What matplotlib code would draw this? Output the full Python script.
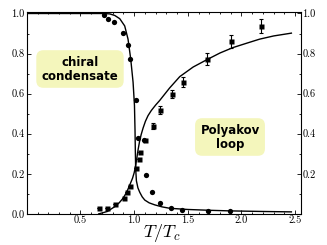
import numpy as np
import matplotlib
matplotlib.use("Agg")
import matplotlib.pyplot as plt
from matplotlib.ticker import MultipleLocator, FixedLocator

# chiral condensate: lattice points and model curve
chiral_T = [0.72, 0.76, 0.81, 0.90, 0.94, 0.96, 1.02, 1.04, 1.09, 1.11,
            1.165, 1.24, 1.34, 1.45, 1.69, 1.89]
chiral_val = [0.991, 0.974, 0.958, 0.905, 0.842, 0.773, 0.569, 0.381, 0.367,
              0.194, 0.108, 0.053, 0.031, 0.021, 0.015, 0.013]
chiral_curve_T = [0.0, 0.70, 0.773, 0.82, 0.866, 0.912, 0.943, 0.968, 0.990,
                  1.003, 1.008, 1.011, 1.014, 1.021, 1.035, 1.052, 1.075,
                  1.099, 1.14, 1.192, 1.26, 1.331, 1.5, 1.7, 1.89, 2.2, 2.465]
chiral_curve_val = [1.0, 1.0, 0.998, 0.99, 0.974, 0.938, 0.872, 0.773, 0.657,
                    0.541, 0.42, 0.318, 0.228, 0.165, 0.13, 0.108, 0.085,
                    0.069, 0.055, 0.045, 0.035, 0.028, 0.022, 0.018, 0.015,
                    0.012, 0.010]

# Polyakov loop: lattice points (with errors) and model curve
poly_T = [0.673, 0.748, 0.826, 0.906, 0.938, 0.959, 1.015, 1.046, 1.059,
          1.099, 1.176, 1.241, 1.353, 1.459, 1.683, 1.899, 2.179]
poly_val = [0.028, 0.031, 0.048, 0.081, 0.108, 0.140, 0.227, 0.276, 0.309,
            0.367, 0.438, 0.518, 0.599, 0.657, 0.771, 0.862, 0.936]
poly_err = [0.0, 0.0, 0.0, 0.0, 0.0, 0.0, 0.0, 0.0, 0.0,
            0.0, 0.015, 0.018, 0.02, 0.025, 0.03, 0.033, 0.035]
poly_curve_T = [0.67, 0.75, 0.819, 0.86, 0.897, 0.93, 0.959, 0.985, 1.0,
                1.012, 1.024, 1.036, 1.05, 1.065, 1.083, 1.105, 1.129, 1.16,
                1.2, 1.238, 1.33, 1.425, 1.55, 1.683, 1.8, 1.921, 2.05,
                2.169, 2.3, 2.465]
poly_curve_val = [0.0, 0.012, 0.036, 0.055, 0.078, 0.108, 0.144, 0.178, 0.205,
                  0.235, 0.275, 0.318, 0.36, 0.395, 0.428, 0.462, 0.49, 0.516,
                  0.543, 0.566, 0.628, 0.685, 0.733, 0.771, 0.803, 0.830,
                  0.852, 0.872, 0.888, 0.902]

x_ticks = [0.5, 1.0, 1.5, 2.0, 2.5]
y_ticks = [0.0, 0.2, 0.4, 0.6, 0.8, 1.0]

plt.rcParams['font.family'] = 'cmr10'
plt.rcParams['mathtext.fontset'] = 'cm'
plt.rcParams['axes.unicode_minus'] = False
plt.rcParams['axes.formatter.use_mathtext'] = True

fig = plt.figure(figsize=(3.27, 2.45), dpi=100)
ax = fig.add_axes([0.082, 0.127, 0.837, 0.822])

ax.plot(chiral_curve_T, chiral_curve_val, color='black', lw=1.0)
ax.plot(poly_curve_T, poly_curve_val, color='black', lw=1.0)
ax.plot(chiral_T, chiral_val, 'o', color='black', ms=3.8, mec='none')
ax.errorbar(poly_T, poly_val, yerr=poly_err, fmt='s', color='black', ms=3.6,
            mec='none', elinewidth=0.8, capsize=1.2, capthick=0.8)

ax.set_xlim(0.0, 2.55)
ax.set_ylim(0.0, 1.005)

ax.xaxis.set_major_locator(FixedLocator(x_ticks))
ax.xaxis.set_minor_locator(MultipleLocator(0.1))
ax.yaxis.set_major_locator(FixedLocator(y_ticks))
ax.yaxis.set_minor_locator(MultipleLocator(0.1))
ax.set_xticklabels(['%.1f' % t for t in x_ticks])
ax.set_yticklabels(['%.1f' % t for t in y_ticks])
ax.tick_params(which='both', direction='in', top=True, right=True,
               labelsize=7.5, pad=1.5, width=0.6, labelright=True)
ax.tick_params(which='major', length=3.0)
ax.tick_params(which='minor', length=1.6)
for s in ax.spines.values():
    s.set_linewidth(0.8)

# no 0.0 label on the right axis
fig.canvas.draw()
for t in ax.yaxis.get_major_ticks():
    if t.get_loc() == 0.0:
        t.label2.set_visible(False)

box = dict(boxstyle='round,pad=0.45,rounding_size=0.6', fc='#f4f6bc', ec='none')
fig.text(80 / 327, 1 - 69 / 245, 'chiral\ncondensate', ha='center', va='center',
         fontsize=8.5, family='DejaVu Sans', weight='bold', linespacing=1.1,
         bbox=box)
fig.text(230 / 327, 1 - 137 / 245, 'Polyakov\nloop', ha='center', va='center',
         fontsize=8.5, family='DejaVu Sans', weight='bold', linespacing=1.1,
         bbox=box)

fig.text(162 / 327, 1 - 233 / 245, r'$T/T_c$', ha='center', va='center',
         fontsize=13)

fig.savefig('out.png', dpi=100)
